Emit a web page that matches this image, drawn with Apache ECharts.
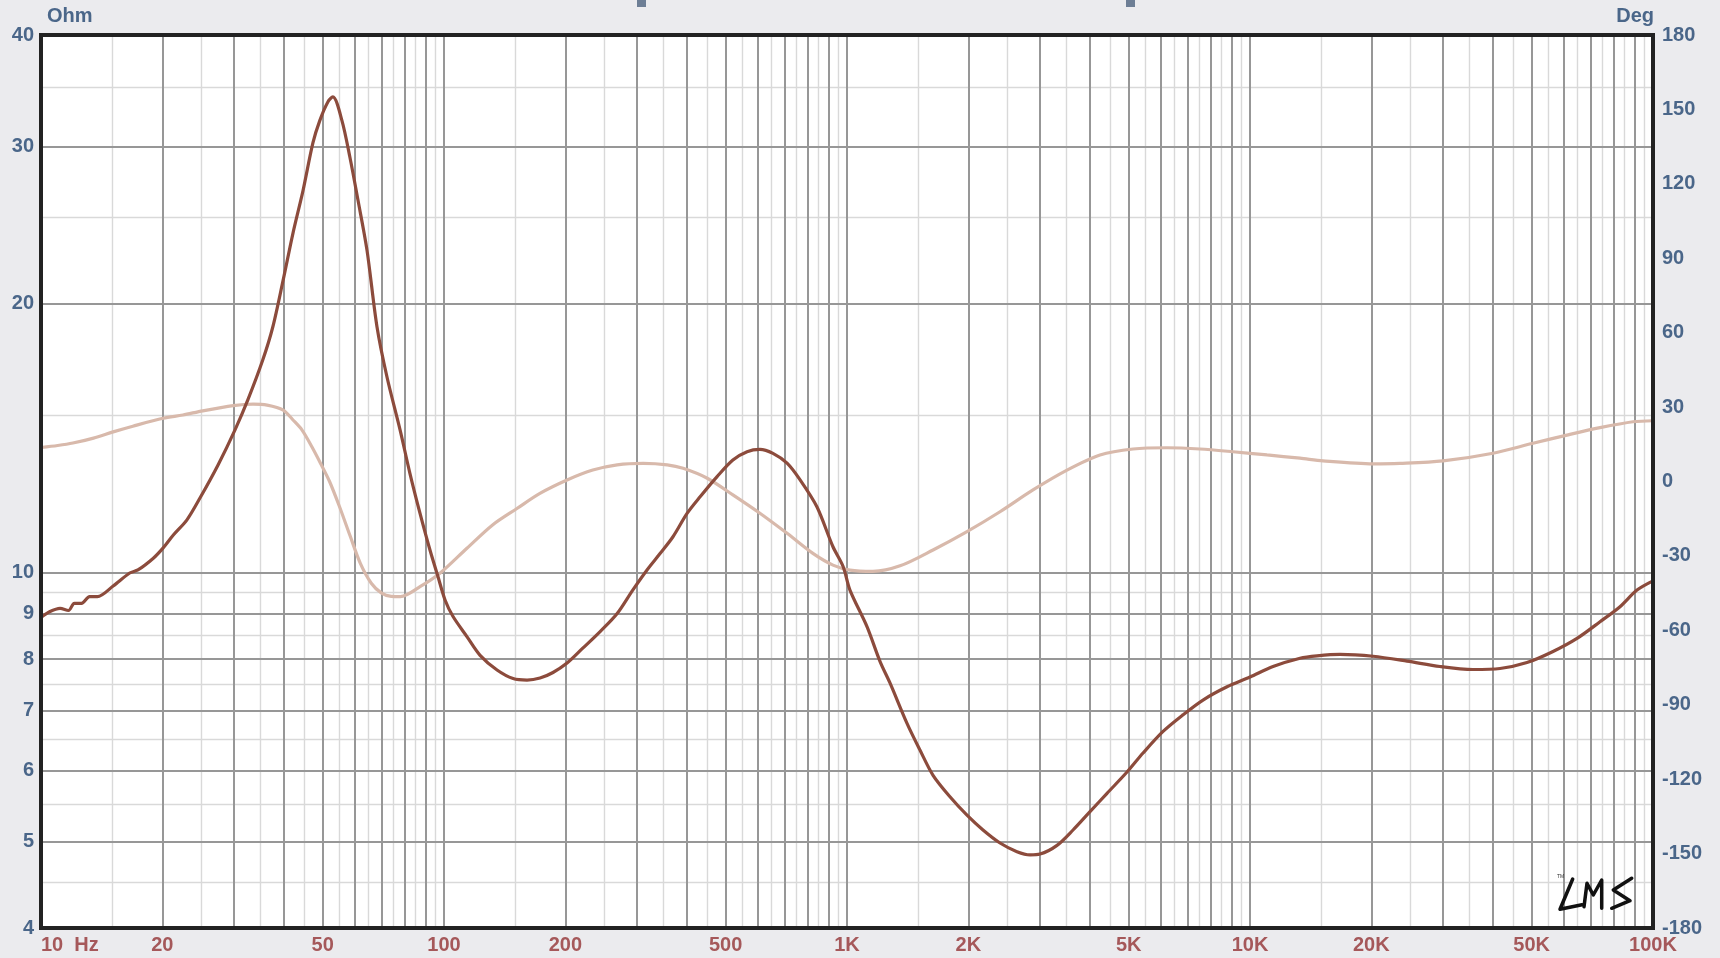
<!DOCTYPE html>
<html><head><meta charset="utf-8">
<script src="https://cdn.jsdelivr.net/npm/echarts@6/dist/echarts.min.js"></script>
<style>html,body{margin:0;padding:0;background:#ebebee;}#c{width:1720px;height:958px;}</style>
</head><body><div id="c"></div>
<script>
const impFreq = [10,10.5,11.15,11.7,12.1,12.6,13.2,13.8,15.1,16.6,17.4,19.0,20.1,21.3,23.0,24.8,27.5,30.3,32.6,35.5,37.6,39.9,42.2,44.7,47.3,49.2,51.5,53.0,55.8,58.4,61.2,64.4,68.2,72.2,77.8,82.3,87.2,92.3,96.6,100.6,105.3,114,122.9,135.4,148.4,160.7,173.1,186.4,202,221,244,269,294,319,344,370,401,432,476,521,565,608,655,710,765,842,923,978,1017,1121,1208,1279,1409,1517,1635,1801,1985,2175,2397,2641,2846,3013,3320,3638,4009,4418,4953,5427,6085,6819,7645,8770,10000,11406,13310,14670,16720,20200,24530,29610,35750,41730,48680,56480,64780,73880,82820,91260,100000];
const impOhm = [8.91,9.04,9.12,9.07,9.24,9.24,9.40,9.40,9.66,9.99,10.07,10.38,10.66,11.02,11.45,12.12,13.2,14.45,15.61,17.3,18.84,21.27,24.0,26.8,30.3,32.1,33.66,34.1,32.1,29.2,26.1,22.97,18.84,16.56,14.45,12.92,11.65,10.6,9.9,9.32,8.93,8.48,8.08,7.78,7.61,7.58,7.62,7.73,7.92,8.23,8.59,9.0,9.56,10.07,10.51,10.97,11.65,12.16,12.81,13.37,13.66,13.74,13.6,13.26,12.7,11.85,10.69,10.16,9.56,8.7,7.95,7.52,6.78,6.33,5.93,5.61,5.35,5.15,4.98,4.87,4.83,4.84,4.95,5.15,5.4,5.66,5.98,6.28,6.64,6.93,7.2,7.45,7.64,7.85,8.02,8.07,8.10,8.06,7.96,7.85,7.79,7.81,7.93,8.16,8.44,8.81,9.16,9.56,9.79];
const phaseFreq = [10,11,12,13.5,15.1,16.9,20.1,22.5,25.2,30.0,33.6,36.4,39.9,42.2,44.4,47,49.5,52,55,58.5,62,66,70,74,78,87.2,97.7,114,132,152,173,202,234,269,312,358,392,450,521,608,710,823,923,1017,1160,1354,1635,1985,2397,2894,3515,4244,5125,6223,7516,9075,11020,13310,15180,20200,23560,30130,40090,50380,61170,73880,89200,100000];
const phaseDeg = [13.7,14.5,15.5,17.5,20.0,22.3,25.5,26.8,28.5,30.6,31.2,30.8,28.8,24.8,20.8,14,7,0,-10,-22,-33,-41,-45,-46.3,-46.4,-42.4,-37,-26.9,-17.5,-10.8,-4.8,0.6,4.6,6.7,7.3,6.7,5.3,1.3,-5.4,-12.8,-20.9,-29,-33.7,-35.7,-36.2,-34.0,-27.6,-20.2,-12.2,-3.4,4.6,10.7,13.1,13.6,13.1,12.0,10.7,9.4,8.3,7.1,7.3,8.3,11.4,15.4,18.7,21.7,24.1,24.5];

const freqLabels = [10,20,50,100,200,500,1000,2000,5000,10000,20000,50000,100000];
const freqMajor = [20,30,40,50,60,70,80,90,100,200,300,400,500,600,700,800,900,1000,2000,3000,4000,5000,6000,7000,8000,9000,10000,20000,30000,40000,50000,60000,70000,80000,90000];
const freqMinor = [15,25,35,45,55,65,75,85,95,150,250,350,450,550,650,750,850,950,1500,2500,3500,4500,5500,6500,7500,8500,9500,15000,25000,35000,45000,55000,65000,75000,85000,95000];
const ohmLabels = [4,5,6,7,8,9,10,20,30,40];
const ohmMajor = [5,6,7,8,9,10,20,30];
const ohmMinor = [4.5,5.5,6.5,7.5,8.5,9.5,15,25,35];
const degMin = -180, degMax = 180, degStep = 30;

const impData = impFreq.map((f, i) => [f, impOhm[i]]);
const phaseData = phaseFreq.map((f, i) => [f, phaseDeg[i]]);

const FONT = 'Liberation Sans, Arial, Helvetica, sans-serif';
const blue = '#4a6689';
const red = '#a5585a';
const dark = '#979797';
const light = '#d9d9d9';

const chart = echarts.init(document.getElementById('c'));
const fmtF = v => v === 10 ? '10  Hz' : (v >= 1000 ? (v / 1000) + 'K' : String(v));

chart.setOption({
  animation: false,
  backgroundColor: '#ebebee',
  grid: { left: 41, right: 67, top: 35, bottom: 30, show: true, backgroundColor: '#ffffff', borderColor: '#222222', borderWidth: 0, outerBoundsMode: 'none', containLabel: false },
  xAxis: [
    { type: 'log', logBase: 10, min: 10, max: 100000, position: 'bottom', z: 1,
      axisLine: { show: false }, axisTick: { show: false, customValues: freqMajor },
      splitLine: { show: true, lineStyle: { color: dark, width: 2 } },
      axisLabel: { show: true, customValues: freqLabels, formatter: fmtF, color: red, fontWeight: 'bold', fontSize: 20, fontFamily: FONT, margin: 7, alignMinLabel: 'left' } },
    { type: 'log', logBase: 10, min: 10, max: 100000, position: 'bottom', z: 0,
      axisLine: { show: false }, axisTick: { show: false, customValues: freqMinor },
      splitLine: { show: true, lineStyle: { color: light, width: 1.4 } },
      axisLabel: { show: false } }
  ],
  yAxis: [
    { type: 'log', logBase: 10, min: 4, max: 40, position: 'left', z: 1,
      axisLine: { show: false }, axisTick: { show: false, customValues: ohmMajor },
      splitLine: { show: true, lineStyle: { color: dark, width: 2 } },
      axisLabel: { show: true, customValues: ohmLabels, color: blue, fontWeight: 'bold', fontSize: 20, fontFamily: FONT, margin: 7 } },
    { type: 'log', logBase: 10, min: 4, max: 40, position: 'left', z: 0,
      axisLine: { show: false }, axisTick: { show: false, customValues: ohmMinor },
      splitLine: { show: true, lineStyle: { color: light, width: 1.4 } },
      axisLabel: { show: false } },
    { type: 'value', min: degMin, max: degMax, interval: degStep, position: 'right',
      axisLine: { show: false }, axisTick: { show: false }, splitLine: { show: false },
      axisLabel: { show: true, color: blue, fontWeight: 'bold', fontSize: 20, fontFamily: FONT, margin: 9 } }
  ],
  series: [
    { name: 'Phase', type: 'line', xAxisIndex: 0, yAxisIndex: 2, data: phaseData, showSymbol: false, smooth: 0.3,
      lineStyle: { color: '#d8b9ab', width: 3.2 }, z: 3 },
    { name: 'Impedance', type: 'line', xAxisIndex: 0, yAxisIndex: 0, data: impData, showSymbol: false, smooth: 0.3,
      lineStyle: { color: '#8c4b3c', width: 3.2 }, z: 4 }
  ],
  graphic: [
    { type: 'rect', shape: { x: 41, y: 35, width: 1612, height: 893 }, style: { fill: 'none', stroke: '#222222', lineWidth: 4 }, z: 100, silent: true },
    { type: 'text', x: 47, y: 6, style: { text: 'Ohm', fill: blue, font: 'bold 20px ' + FONT }, z: 100 },
    { type: 'text', x: 1654, y: 6, style: { text: 'Deg', fill: blue, font: 'bold 20px ' + FONT, textAlign: 'right' }, z: 100 },
    { type: 'rect', shape: { x: 637, y: 0, width: 9, height: 7 }, style: { fill: '#6d7e95' }, z: 100 },
    { type: 'rect', shape: { x: 1126, y: 0, width: 9, height: 7 }, style: { fill: '#6d7e95' }, z: 100 },
    { type: 'polyline', shape: { points: [[1572.7,879],[1560,909.3],[1582,904.7]] }, style: { stroke: '#111', lineWidth: 3.5, fill: 'none', lineJoin: 'round', lineCap: 'round' }, z: 100 },
    { type: 'polyline', shape: { points: [[1584,906.7],[1587,883.3],[1593.3,895],[1601.7,880],[1601.7,908.3]] }, style: { stroke: '#111', lineWidth: 3.5, fill: 'none', lineJoin: 'round', lineCap: 'round' }, z: 100 },
    { type: 'polyline', shape: { points: [[1631.7,878.3],[1613.3,890],[1630,900.7],[1611.7,908.3]] }, style: { stroke: '#111', lineWidth: 3.5, fill: 'none', lineJoin: 'round', lineCap: 'round' }, z: 100 },
    { type: 'text', x: 1557, y: 874, style: { text: 'TM', fill: '#333', font: '5px ' + FONT }, z: 100 }
  ]
});
</script></body></html>
